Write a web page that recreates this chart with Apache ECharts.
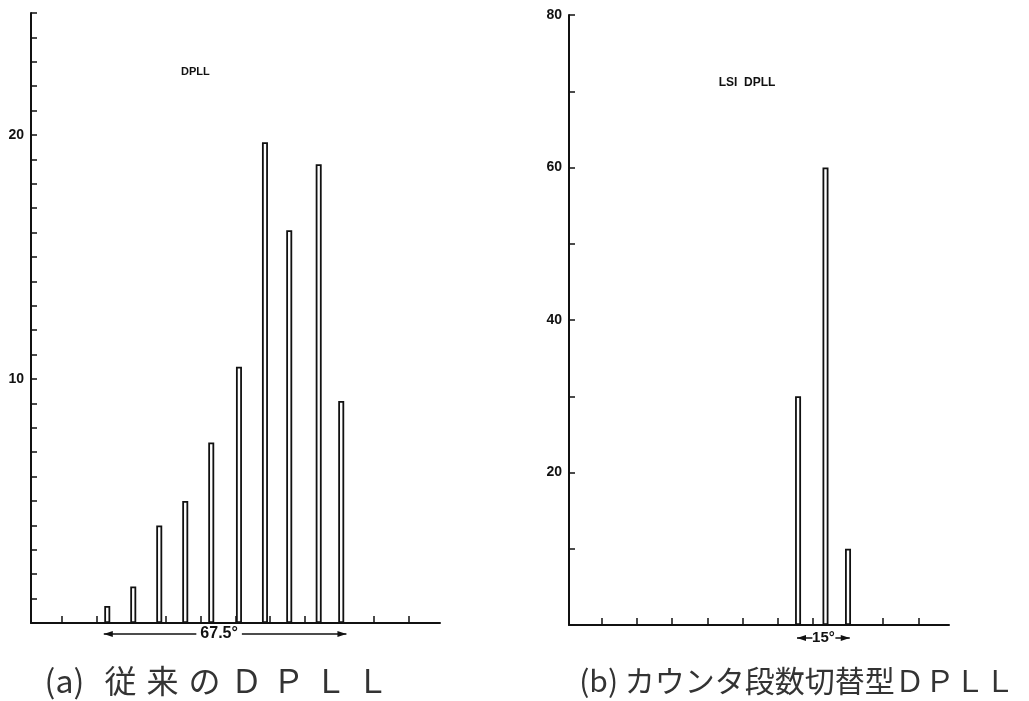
<!DOCTYPE html>
<html>
<head>
<meta charset="utf-8">
<script src="https://cdn.jsdelivr.net/npm/echarts@6/dist/echarts.min.js"></script>
<style>
  html, body { margin: 0; padding: 0; background: #fff; }
  #chart { width: 1029px; height: 701px; }
</style>
</head>
<body>
<div id="chart"></div>
<script>
// (a) 従来のDPLL  位相(deg) / 頻度
const leftPhase = [23, 30.5, 38, 45.5, 53, 61, 68.5, 75.5, 84, 90.5];
const leftCount = [0.7, 1.5, 4.0, 5.0, 7.4, 10.5, 19.7, 16.1, 18.8, 9.1];
const leftYLabels = [10, 20];
const leftXTicks = [10, 20, 30, 40, 50, 60, 70, 80, 90, 100, 110];

// (b) カウンタ段数切替型DPLL
const rightPhase = [65.8, 73.6, 80];
const rightCount = [30, 60, 10];
const rightYLabels = [20, 40, 60, 80];
const rightXTicks = [10, 20, 30, 40, 50, 60, 70, 80, 90, 100];

// 寸法線
const leftSpan = [22, 92];
const rightSpan = [65.5, 80.5];

const ink = '#111';
const chart = echarts.init(document.getElementById('chart'));

function yAxisOf(gridIndex, max, interval, labels) {
    return {
        type: 'value', gridIndex: gridIndex, min: 0, max: max, interval: interval,
        axisLine: { show: true, lineStyle: { color: ink, width: 2 } },
        axisTick: { show: true, inside: true, length: 6, lineStyle: { color: ink, width: 1.5 } },
        axisLabel: {
            customValues: labels, margin: 7, color: ink,
            fontFamily: 'Liberation Sans', fontWeight: 'bold', fontSize: 14
        },
        splitLine: { show: false }
    };
}

function xAxisOf(gridIndex, min, max, ticks) {
    return {
        type: 'value', gridIndex: gridIndex, min: min, max: max,
        axisLine: { show: true, onZero: false, lineStyle: { color: ink, width: 2 } },
        axisTick: { show: true, inside: true, length: 7, customValues: ticks, lineStyle: { color: ink, width: 1.5 } },
        axisLabel: { show: false },
        splitLine: { show: false }
    };
}

function barsOf(index, xs, ys) {
    return {
        type: 'bar', xAxisIndex: index, yAxisIndex: index,
        data: xs.map((x, i) => [x, ys[i]]),
        barWidth: 6,
        itemStyle: { color: '#fff', borderColor: ink, borderWidth: 1.8 },
        silent: true
    };
}

chart.setOption({
    animation: false,
    backgroundColor: '#fff',
    grid: [
        { left: 31, top: 13, right: 589, bottom: 78 },
        { left: 569, top: 15, right: 80, bottom: 76 }
    ],
    xAxis: [xAxisOf(0, 1, 119, leftXTicks), xAxisOf(1, 0.7, 108.7, rightXTicks)],
    yAxis: [yAxisOf(0, 25, 1, leftYLabels), yAxisOf(1, 80, 10, rightYLabels)],
    series: [barsOf(0, leftPhase, leftCount), barsOf(1, rightPhase, rightCount)]
});

// 矢印付きの寸法線とキャプション
function arrowHead(x, y, dir) {
    return {
        type: 'polygon',
        shape: { points: [[x, y], [x - dir * 9, y - 3], [x - dir * 9, y + 3]] },
        style: { fill: ink }
    };
}

const g = [];
const a0 = chart.convertToPixel({ xAxisIndex: 0, yAxisIndex: 0 }, [leftSpan[0], 0]);
const a1 = chart.convertToPixel({ xAxisIndex: 0, yAxisIndex: 0 }, [leftSpan[1], 0]);
const ay = a0[1] + 11;
g.push({ type: 'line', shape: { x1: a0[0], y1: ay, x2: a1[0], y2: ay }, style: { stroke: ink, lineWidth: 1.5 } });
g.push(arrowHead(a0[0], ay, -1), arrowHead(a1[0], ay, 1));
g.push({
    type: 'text', x: (a0[0] + a1[0]) / 2 - 6, y: ay,
    style: {
        text: '67.5°', align: 'center', verticalAlign: 'middle', fill: ink,
        font: 'bold 16px "Liberation Sans Narrow", "Liberation Sans"',
        backgroundColor: '#fff', padding: [0, 4]
    }
});

const b0 = chart.convertToPixel({ xAxisIndex: 1, yAxisIndex: 1 }, [rightSpan[0], 0]);
const b1 = chart.convertToPixel({ xAxisIndex: 1, yAxisIndex: 1 }, [rightSpan[1], 0]);
const by = b0[1] + 13;
const bm = (b0[0] + b1[0]) / 2;
g.push({ type: 'line', shape: { x1: b0[0], y1: by, x2: bm - 11, y2: by }, style: { stroke: ink, lineWidth: 1.5 } });
g.push({ type: 'line', shape: { x1: bm + 12, y1: by, x2: b1[0], y2: by }, style: { stroke: ink, lineWidth: 1.5 } });
g.push(arrowHead(b0[0], by, -1), arrowHead(b1[0], by, 1));
g.push({
    type: 'text', x: bm, y: by,
    style: {
        text: '15°', align: 'center', verticalAlign: 'middle', fill: ink,
        font: 'bold 15px "Liberation Sans Narrow", "Liberation Sans"'
    }
});

g.push({
    type: 'text', x: 181, y: 72,
    style: { text: 'DPLL', verticalAlign: 'middle', fill: ink, font: 'bold 11px "Liberation Sans Narrow", "Liberation Sans"' }
});
g.push({
    type: 'text', x: 747, y: 83,
    style: { text: 'LSI  DPLL', align: 'center', verticalAlign: 'middle', fill: ink, font: 'bold 12px "Liberation Sans Narrow", "Liberation Sans"' }
});

// 左のキャプションは字間が広い
g.push({
    type: 'text', x: 219, y: 681,
    style: {
        text: '{p|(a)} {s|従}{s|来}{s|の}{s|Ｄ}{s|Ｐ}{s|Ｌ}{s|Ｌ}',
        align: 'center', verticalAlign: 'middle', fill: '#333', font: '32px "Noto Sans CJK JP"',
        rich: {
            p: { fill: '#333', font: '32px "Noto Sans CJK JP"', padding: [0, 8, 0, 0] },
            s: { fill: '#333', font: '32px "Noto Sans CJK JP"', padding: [0, 5] }
        }
    }
});
g.push({
    type: 'text', x: 797, y: 681,
    style: { text: '(b) カウンタ段数切替型ＤＰＬＬ', align: 'center', verticalAlign: 'middle', fill: '#333', font: '30px "Noto Sans CJK JP"' }
});

chart.setOption({ graphic: g });
</script>
</body>
</html>
